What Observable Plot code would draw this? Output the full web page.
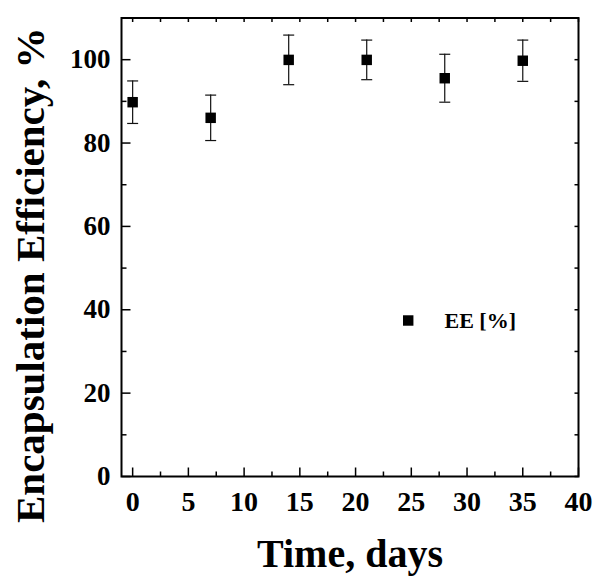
<!DOCTYPE html>
<html>
<head>
<meta charset="utf-8">
<script src="https://cdn.jsdelivr.net/npm/d3@7"></script>
<script src="https://cdn.jsdelivr.net/npm/@observablehq/plot@0.6"></script>
<style>
  html, body { margin: 0; padding: 0; background: white; }
</style>
</head>
<body>
<div id="chart"></div>
<script>
// ---- data ----
const days = [0, 7, 14, 21, 28, 35];
const eeValues = [89.8, 86.05, 99.95, 99.95, 95.55, 99.75];
const eeErrors = [5.1, 5.45, 5.95, 4.75, 5.75, 4.95];
const xTicks = [0, 5, 10, 15, 20, 25, 30, 35, 40];
const xMinorTicks = [2.5, 7.5, 12.5, 17.5, 22.5, 27.5, 32.5, 37.5];
const yTicks = [0, 20, 40, 60, 80, 100];
const yMinorTicks = [10, 30, 50, 70, 90];
const xTitle = "Time, days";
const yTitle = "Encapsulation Efficiency, %";
const legendLabel = "EE [%]";

const data = days.map((d, i) => ({
  day: d, ee: eeValues[i], lo: eeValues[i] - eeErrors[i], hi: eeValues[i] + eeErrors[i]
}));

function lineSym(dx, dy) {
  return { draw(ctx) { ctx.moveTo(0, 0); ctx.lineTo(dx, dy); } };
}
const capSym = { draw(ctx) { ctx.moveTo(-5.5, 0); ctx.lineTo(5.5, 0); } };

const font = "'Liberation Serif', 'Times New Roman', serif";
const tickStyle = { stroke: "black", strokeWidth: 1.5, fill: "none" };

const chart = Plot.plot({
  width: 595,
  height: 576,
  marginLeft: 121,
  marginRight: 17,
  marginTop: 17.5,
  marginBottom: 100,
  x: { domain: [-1, 40] },
  y: { domain: [0, 110] },
  style: { fontFamily: font, fontWeight: "bold", background: "white", color: "black" },
  marks: [
    // inward ticks
    Plot.dot(xTicks, { x: d => d, frameAnchor: "bottom", symbol: lineSym(0, -9), ...tickStyle }),
    Plot.dot(xMinorTicks, { x: d => d, frameAnchor: "bottom", symbol: lineSym(0, -5), ...tickStyle }),
    Plot.dot(xTicks.concat(xMinorTicks), { x: d => d, frameAnchor: "top", symbol: lineSym(0, 4), ...tickStyle }),
    Plot.dot(yTicks, { y: d => d, frameAnchor: "left", symbol: lineSym(9, 0), ...tickStyle }),
    Plot.dot(yMinorTicks, { y: d => d, frameAnchor: "left", symbol: lineSym(5, 0), ...tickStyle }),
    Plot.dot(yTicks.concat(yMinorTicks), { y: d => d, frameAnchor: "right", symbol: lineSym(-4, 0), ...tickStyle }),
    Plot.frame({ stroke: "black", strokeWidth: 2 }),
    Plot.axisX({ ticks: xTicks, tickSize: 0, tickPadding: 15, fontSize: 28, fontWeight: "bold", label: null }),
    Plot.axisY({ ticks: yTicks, tickSize: 0, tickPadding: 11, fontSize: 27, fontWeight: "bold", label: null }),
    // error bars
    Plot.ruleX(data, { x: "day", y1: "lo", y2: "hi", stroke: "#111", strokeWidth: 1.2 }),
    Plot.dot(data, { x: "day", y: "hi", symbol: capSym, stroke: "#111", strokeWidth: 1.2, fill: "none" }),
    Plot.dot(data, { x: "day", y: "lo", symbol: capSym, stroke: "#111", strokeWidth: 1.2, fill: "none" }),
    // markers
    Plot.dot(data, { x: "day", y: "ee", symbol: "square", r: 5.9, fill: "black", stroke: "none" }),
    // legend
    Plot.dot([legendLabel], { frameAnchor: "top-left", dx: 286.7, dy: 302.5, symbol: "square", r: 5.9, fill: "black", stroke: "none" }),
    Plot.text([legendLabel], { text: d => d, frameAnchor: "top-left", dx: 323, dy: 302.5, textAnchor: "start", lineAnchor: "middle", fontSize: 22, fontWeight: "bold", letterSpacing: "1px" }),
    // axis titles
    Plot.text([xTitle], { text: d => d, frameAnchor: "bottom", dy: 78, textAnchor: "middle", lineAnchor: "middle", fontSize: 40, fontWeight: "bold" }),
    Plot.text([yTitle], { text: d => d, frameAnchor: "left", rotate: -90, dx: -91, dy: 28, textAnchor: "middle", lineAnchor: "middle", fontSize: 41, fontWeight: "bold" })
  ]
});
document.getElementById("chart").appendChild(chart);
</script>
</body>
</html>
